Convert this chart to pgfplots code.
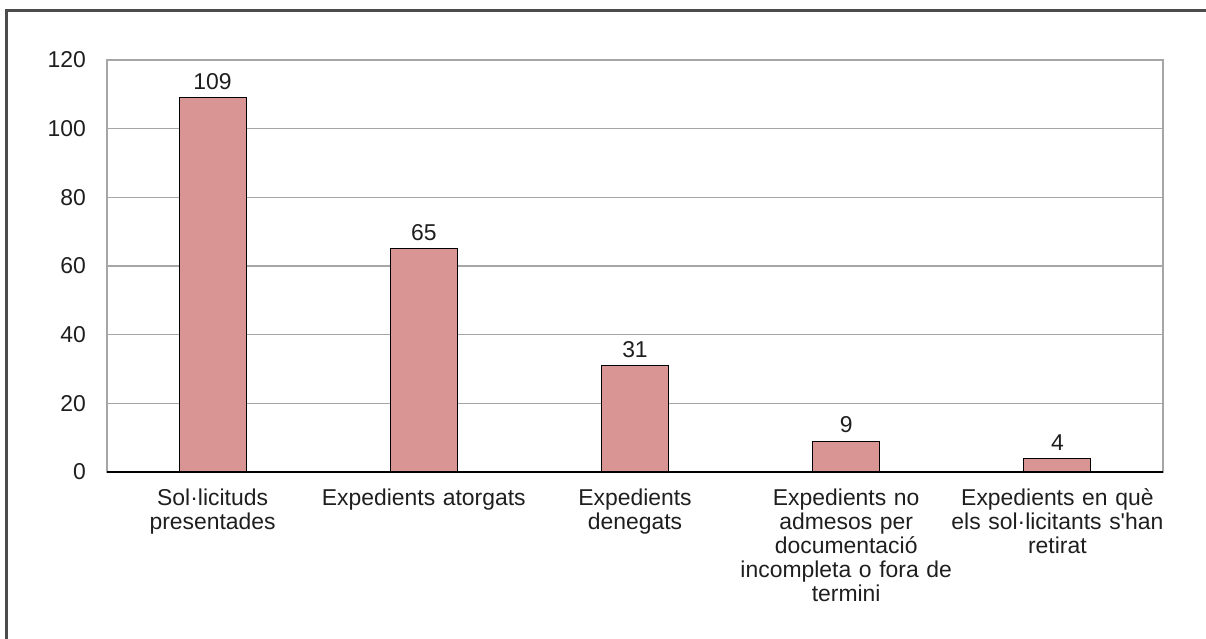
\documentclass[border=0pt]{standalone}
\usepackage{pgfplots}
\pgfplotsset{compat=1.18}
\usepackage{fontspec}
\setmainfont{Liberation Sans}[Ligatures=TeXOff]
\definecolor{barfill}{HTML}{D99594}
\definecolor{gridgray}{HTML}{A6A6A6}
\definecolor{txt}{HTML}{1E1E1E}
\newcommand{\lblfont}{\fontsize{11.5}{12}\selectfont}
\begin{document}
\begin{tikzpicture}
\useasboundingbox (0,0) rectangle (603bp,319.5bp);
\clip (0,0) rectangle (603bp,319.5bp);
\draw[line width=1.1pt, black!70] (3.25bp,-5bp) -- (3.25bp,314.25bp) -- (620bp,314.25bp);
\begin{axis}[
    at={(53.5bp,83.5bp)}, anchor=south west,
    scale only axis,
    width=528bp, height=206bp,
    ymin=0, ymax=120, ytick={0,20,...,120},
    xmin=-0.5, xmax=4.5,
    xtick=data,
    xticklabels={Sol·licituds\\presentades,
                 Expedients atorgats,
                 Expedients\\denegats,
                 Expedients no\\admesos per\\documentació\\incompleta o fora de\\termini,
                 Expedients en què\\els sol·licitants s'han\\retirat},
    xticklabel style={align=center, text width=115bp, font=\lblfont, text=txt, yshift=-5bp},
    yticklabel style={font=\lblfont, text=txt, xshift=-7bp},
    /pgf/number format/assume math mode=true,
    major tick length=0pt,
    axis line style={gridgray, line width=0.6pt},
    ymajorgrids, grid style={gridgray, line width=0.6pt},
    ybar, bar width=33.5bp,
    nodes near coords,
    nodes near coords style={font=\lblfont, text=txt, yshift=0.5bp},
    clip=false,
    ]
\addplot[fill=barfill, draw=black, line width=0.5pt]
  coordinates {(0,109) (1,65) (2,31) (3,9) (4,4)};
\draw[black, line width=0.7pt] (rel axis cs:0,0) -- (rel axis cs:1,0);
\end{axis}
\end{tikzpicture}
\end{document}
